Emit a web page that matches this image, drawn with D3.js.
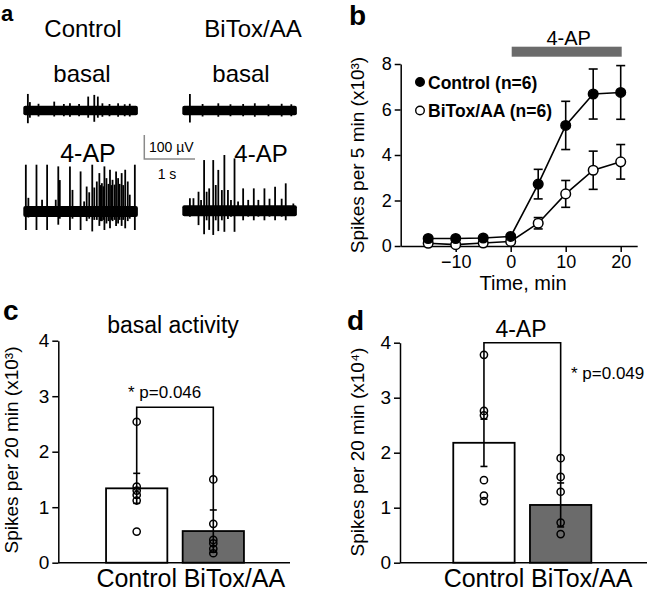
<!DOCTYPE html>
<html><head><meta charset="utf-8">
<script src="https://cdn.jsdelivr.net/npm/d3@7"></script>
<style>
body{margin:0;background:#fff}
svg{display:block}
text{font-family:"Liberation Sans",Arial,Helvetica,sans-serif;fill:#000}
</style>
</head><body>
<svg id="fig" width="649" height="592"></svg>
<script>
// ---------------- DATA ----------------
// Panel a: traces (spike times in s, up/down amplitude in µV)
const traceDur = 2.26;
const noiseBasal = 20;
const noiseAP = 23;
const ctrlBasalT  = [0.09,0.13,0.30,0.61,0.80,0.92,1.10,1.28,1.40,1.47,1.56,1.70,1.87,2.00,2.10];
const ctrlBasalUp = [69,35,28,37,27,30,27,58,65,58,30,27,30,26,28];
const ctrlBasalDn = [53,30,25,25,24,26,24,30,47,30,26,24,26,24,25];
const bitoxBasalT  = [0.15,0.40,0.71,0.95,1.20,1.43,1.70,1.96,2.15];
const bitoxBasalUp = [69,27,30,26,27,30,26,28,26];
const bitoxBasalDn = [50,25,26,24,24,26,24,25,24];
const ctrlAPT  = [0.05,0.10,0.26,0.37,0.47,0.64,0.69,0.72,0.92,0.97,1.13,1.20,1.25,1.30,1.36,1.40,1.45,1.50,1.53,1.55,1.58,1.60,1.64,1.68,1.71,1.74,1.76,1.80,1.83,1.87,1.90,1.94,1.97,2.01,2.06,2.10,2.20];
const ctrlAPUp = [195,57,195,49,195,49,188,131,188,90,167,42,104,80,195,100,125,160,110,118,105,188,139,115,174,110,132,112,167,139,115,160,110,174,125,70,195];
const ctrlAPDn = [77,25,77,20,77,20,55,30,77,30,77,20,40,30,83,35,35,60,40,40,35,77,50,40,70,35,40,35,60,50,35,60,35,70,40,30,77];
const bitoxAPT  = [0.15,0.22,0.32,0.37,0.43,0.48,0.53,0.61,0.66,0.71,0.78,0.83,0.90,0.96,1.03,1.10,1.20,1.30,1.41,1.50,1.62,1.72,1.83,1.96,2.04,2.19];
const bitoxAPUp = [52,52,79,45,211,79,93,211,107,170,86,232,86,45,218,38,93,45,93,45,93,50,100,50,114,30];
const bitoxAPDn = [25,20,60,20,98,40,80,101,40,85,40,88,35,25,88,20,40,25,40,25,40,25,40,25,40,22];
const scaleBarUV = 100;
const scaleBarS = 1;

// Panel b: time course
const timeMin  = [-15,-10,-5,0,5,10,15,20];
const ctrlMean = [0.33,0.33,0.35,0.42,2.72,5.30,6.68,6.75];
const ctrlErr  = [0.05,0.05,0.05,0.06,0.65,1.06,1.10,1.18];
const bitoxMean = [0.12,0.06,0.13,0.20,1.00,2.29,3.33,3.70];
const bitoxErr  = [0.03,0.03,0.03,0.04,0.25,0.59,0.84,0.76];
const drugWindow = [0, 20];
const bTicksY = [0,2,4,6,8];
const bTicksX = [-10,0,10,20];
const legendLabels = ["Control (n=6)","BiTox/AA (n=6)"];

// Panels c, d: bars
const groups = ["Control","BiTox/AA"];
const basalMean = [1.34, 0.57];
const basalErr  = [0.27, 0.38];
const basalPts  = [[2.54,1.37,1.30,1.22,1.12,0.56],[1.50,0.70,0.41,0.35,0.25,0.17]];
const apMean = [2.18, 1.05];
const apErr  = [0.43, 0.40];
const apPts  = [[3.78,2.76,2.68,1.50,1.22,1.12],[1.90,1.56,1.29,0.73,0.52]];
const barTicks = [0,1,2,3,4];
const basalBracket = 2.8, basalP = "* p=0.046";
const apBracket = 4.0, apP = "* p=0.049";

// ---------------- DRAW ----------------
const svg = d3.select("#fig");
const GRAY = "#6b6b6b";

function label(g, txt, x, y, size, opts={}) {
  return g.append("text").attr("x", x).attr("y", y).attr("font-size", size)
    .attr("text-anchor", opts.anchor || "start")
    .attr("font-weight", opts.bold ? "bold" : "normal").text(txt);
}

// ---- Panel a ----
const pa = svg.append("g");
label(pa, "a", 1, 21, 22, {bold:true});
label(pa, "Control", 83, 37, 24, {anchor:"middle"});
label(pa, "BiTox/AA", 253, 37, 24, {anchor:"middle"});
label(pa, "basal", 82, 82, 24, {anchor:"middle"});
label(pa, "basal", 241, 82, 24, {anchor:"middle"});
label(pa, "4-AP", 88, 162, 25, {anchor:"middle"});
label(pa, "4-AP", 261, 162, 24, {anchor:"middle"});

const pxPerS = 50.7, pxPerUV = 0.24;
function drawTrace(x0, cy, T, Up, Dn, noise) {
  const x = d3.scaleLinear().domain([0, traceDur]).range([x0, x0 + traceDur*pxPerS]);
  const y = d3.scaleLinear().domain([-100, 100]).range([cy + 100*pxPerUV, cy - 100*pxPerUV]);
  const g = pa.append("g");
  g.append("rect").attr("x", x(0)).attr("width", x(traceDur)-x(0))
    .attr("y", y(noise)).attr("height", y(-noise)-y(noise))
    .attr("fill", "#000").attr("rx", 2);
  g.selectAll("line").data(T).join("line")
    .attr("x1", d=>x(d)).attr("x2", d=>x(d))
    .attr("y1", (d,i)=>y(Up[i])).attr("y2", (d,i)=>y(-Dn[i]))
    .attr("stroke", "#000").attr("stroke-width", 1.8);
  return {x, y};
}
drawTrace(23.3, 110.5, ctrlBasalT, ctrlBasalUp, ctrlBasalDn, noiseBasal);
drawTrace(182.3, 110.5, bitoxBasalT, bitoxBasalUp, bitoxBasalDn, noiseBasal);
drawTrace(23.3, 211.5, ctrlAPT, ctrlAPUp, ctrlAPDn, noiseAP);
drawTrace(182.3, 210.7, bitoxAPT, bitoxAPUp, bitoxAPDn, noiseAP);

// scale bar
{
  const sx0 = 144.3, sy0 = 159;
  const sbx = d3.scaleLinear().domain([0, scaleBarS]).range([sx0, sx0 + scaleBarS*pxPerS]);
  const sby = d3.scaleLinear().domain([0, scaleBarUV]).range([sy0, sy0 - scaleBarUV*pxPerUV]);
  pa.append("path").attr("d", `M${sbx(0)},${sby(scaleBarUV)}V${sby(0)}H${sbx(scaleBarS)}`)
    .attr("fill","none").attr("stroke","#8a8a8a").attr("stroke-width",1.5);
  label(pa, "100 \u00B5V", 149, 152, 14);
  label(pa, "1 s", 167, 179, 14, {anchor:"middle"});
}

// ---- Panel b ----
const pb = svg.append("g");
const xB = d3.scaleLinear().domain([-20, 23]).range([400.7, 637.2]);
const yB = d3.scaleLinear().domain([0, 8]).range([246, 64]);
label(pb, "b", 349, 25, 28, {bold:true});

const axB1 = pb.append("g").attr("transform", `translate(${xB(-20)},0)`)
  .call(d3.axisLeft(yB).tickValues(bTicksY).tickSize(6).tickPadding(3).tickSizeOuter(0));
const axB2 = pb.append("g").attr("transform", `translate(0,${yB(0)})`)
  .call(d3.axisBottom(xB).tickValues(bTicksX).tickSize(6).tickPadding(3).tickSizeOuter(0));
[axB1, axB2].forEach(a => {
  a.selectAll("text").attr("font-size", 18).attr("fill","#000");
  a.selectAll("path,line").attr("stroke","#000").attr("stroke-width",1.5);
  a.attr("font-family", null);
});
label(pb, "Time, min", 523, 290, 20, {anchor:"middle"});
pb.append("text").attr("transform", `translate(364,155) rotate(-90)`)
  .attr("text-anchor","middle").attr("font-size",19).text("Spikes per 5 min (x10\u00B3)");

// drug bar
pb.append("rect").attr("x", xB(drugWindow[0])+1).attr("width", xB(drugWindow[1]) - xB(drugWindow[0]))
  .attr("y", 46.7).attr("height", 10).attr("fill", GRAY);
label(pb, "4-AP", (xB(drugWindow[0])+xB(drugWindow[1]))/2 + 3, 45, 20, {anchor:"middle"});

function series(mean, err, fill) {
  const line = d3.line().x((d,i)=>xB(timeMin[i])).y(d=>yB(d));
  pb.append("path").datum(mean).attr("d", line).attr("fill","none").attr("stroke","#000").attr("stroke-width",1.6);
  const eg = pb.append("g").attr("stroke","#000").attr("stroke-width",1.6);
  mean.forEach((m,i) => {
    const x = xB(timeMin[i]);
    eg.append("line").attr("x1",x).attr("x2",x).attr("y1",yB(m+err[i])).attr("y2",yB(m-err[i]));
    [m+err[i], m-err[i]].forEach(v => eg.append("line").attr("x1",x-4.5).attr("x2",x+4.5).attr("y1",yB(v)).attr("y2",yB(v)));
  });
  pb.append("g").selectAll("circle").data(mean).join("circle")
    .attr("cx",(d,i)=>xB(timeMin[i])).attr("cy",d=>yB(d)).attr("r",4.8)
    .attr("fill",fill).attr("stroke","#000").attr("stroke-width",1.5);
}
series(bitoxMean, bitoxErr, "#fff");
series(ctrlMean, ctrlErr, "#000");

// legend
[["#000",82],["#fff",110.5]].forEach(([f,y],i) => {
  pb.append("circle").attr("cx",420).attr("cy",y).attr("r",4.3).attr("fill",f).attr("stroke","#000").attr("stroke-width",1.4);
  label(pb, legendLabels[i], 428, y+6.5, 17.5, {bold:true});
});

// ---- Bar panels ----
function barPanel(opts) {
  const g = svg.append("g");
  const y = d3.scaleLinear().domain([0,4]).range([562.7, opts.yTop]);
  const x = d3.scaleBand().domain(groups).range(opts.xRange).paddingInner(0.2).paddingOuter(0.1);
  label(g, opts.letter, opts.letterX, opts.letterY, 28, {bold:true});
  label(g, opts.title, opts.titleX, opts.titleY, 23, {anchor:"middle"});
  g.append("line").attr("x1", opts.axisX).attr("x2", opts.xEnd).attr("y1", y(0)).attr("y2", y(0))
    .attr("stroke","#000").attr("stroke-width",1.5);
  const ax = g.append("g").attr("transform", `translate(${opts.axisX},0)`)
    .call(d3.axisLeft(y).tickValues(barTicks).tickFormat(d3.format("d")).tickSize(6).tickPadding(3).tickSizeOuter(0));
  ax.attr("font-family", null);
  ax.selectAll("text").attr("font-size",19).attr("fill","#000");
  ax.selectAll("path,line").attr("stroke","#000").attr("stroke-width",1.5);
  g.append("text").attr("transform", `translate(${opts.ylabX},${opts.ylabY}) rotate(-90)`)
    .attr("text-anchor","middle").attr("font-size",19).text(opts.ylab);
  g.selectAll("rect.bar").data(opts.mean).join("rect").attr("class","bar")
    .attr("x",(d,i)=>x(groups[i])).attr("width",x.bandwidth())
    .attr("y",d=>y(d)).attr("height",d=>y(0)-y(d))
    .attr("fill",(d,i)=>i===0?"#fff":GRAY).attr("stroke","#000").attr("stroke-width",1.8);
  const cx = i => x(groups[i]) + x.bandwidth()/2;
  g.append("path").attr("d",
      `M${cx(0)},${y(opts.mean[0]+opts.err[0])}V${y(opts.bracket)}H${cx(1)}V${y(opts.mean[1]+opts.err[1])}`)
    .attr("fill","none").attr("stroke","#000").attr("stroke-width",1.6);
  opts.mean.forEach((m,i) => {
    const e = opts.err[i];
    g.append("line").attr("x1",cx(i)).attr("x2",cx(i)).attr("y1",y(m+e)).attr("y2",y(m-e)).attr("stroke","#000").attr("stroke-width",1.6);
    [m+e, m-e].forEach(v => g.append("line").attr("x1",cx(i)-3.5).attr("x2",cx(i)+3.5).attr("y1",y(v)).attr("y2",y(v)).attr("stroke","#000").attr("stroke-width",1.6));
  });
  opts.pts.forEach((arr,i) => {
    g.append("g").selectAll("circle").data(arr).join("circle")
      .attr("cx",cx(i)).attr("cy",d=>y(d)).attr("r",3.6)
      .attr("fill","none").attr("stroke","#000").attr("stroke-width",1.5);
  });
  label(g, groups[0], cx(0), 587, 25, {anchor:"middle"});
  label(g, groups[1], x(groups[1]) + 1, 587, 25);
  label(g, opts.p, opts.pX, opts.pY, 17);
}

barPanel({letter:"c", letterX:3, letterY:320, title:"basal activity", titleX:173, titleY:333,
  yTop:340.7, xRange:[98.4,251.6], axisX:58.3, xEnd:290, ylabX:18, ylabY:450,
  ylab:"Spikes per 20 min (x10\u00B3)", mean:basalMean, err:basalErr, pts:basalPts,
  bracket:basalBracket, p:basalP, pX:128, pY:398});
barPanel({letter:"d", letterX:347, letterY:330, title:"4-AP", titleX:521, titleY:337,
  yTop:342.7, xRange:[445.6,599], axisX:400, xEnd:647, ylabX:364, ylabY:452,
  ylab:"Spikes per 20 min (x10\u2074)", mean:apMean, err:apErr, pts:apPts,
  bracket:apBracket, p:apP, pX:571, pY:379});
</script>
</body></html>
